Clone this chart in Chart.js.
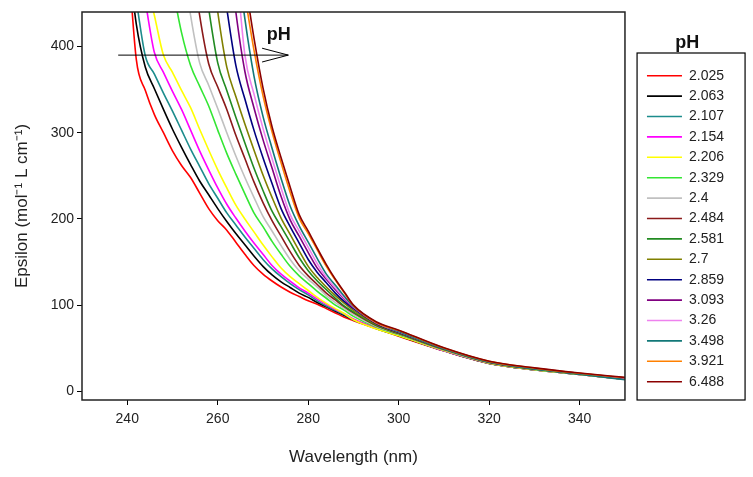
<!DOCTYPE html>
<html>
<head>
<meta charset="utf-8">
<title>Epsilon vs wavelength at several pH</title>
<script src="https://cdn.jsdelivr.net/npm/chart.js@4.4.0/dist/chart.umd.min.js"></script>
<style>
  body { margin: 0; background: #fff; }
  #wrap { width: 753px; height: 477px; }
</style>
</head>
<body>
<div id="wrap"><canvas id="spectraChart"></canvas></div>
<script>
// wavelengths (nm) shared by every spectrum
const wavelengths = [240, 242, 244, 246, 248, 250, 252, 254, 256, 258, 260, 262, 264, 266, 268, 270,
  272, 274, 276, 278, 280, 282, 284, 286, 288, 290, 295, 300, 310, 320, 330, 340, 350];

// epsilon, null where it is still far above the plot
const eps2025 = [520, 385, 349, 321, 300, 279, 262, 248, 230, 212, 198, 187, 173, 159, 146, 136, 128, 121, 115, 110, 105, 101, 96, 91, 86, 82, 73, 64, 47, 32.5, 25, 19.5, 14];
const eps2063 = [515, 426, 376, 351, 327, 304, 283, 263, 244, 228, 212, 197, 183, 170, 157, 145, 135, 127, 120.5, 114, 109, 103, 98, 93, 88, 83, 73, 64.5, 47, 32.5, 25, 19.5, 14];
const eps2107 = [null, 453, 389, 368, 346, 325, 303, 281, 261, 241, 224, 207, 193, 179, 166, 153, 142, 133, 125, 118, 112, 105, 99, 94, 89, 83, 73, 65, 47, 32.5, 25, 19.5, 14];
const eps2154 = [null, null, 452, 393, 370, 348, 327, 303, 279, 257, 236, 217, 201, 186, 172, 159, 146, 136, 128, 120, 114, 107, 101, 95, 90, 84, 73.5, 65.5, 47, 32.8, 25.2, 19.7, 14.1];
const eps2206 = [null, null, 481, 436, 390, 370, 349, 329, 304, 280, 257, 236, 216, 200, 185, 170, 156, 143, 133, 125, 117, 109, 102, 96, 90, 83, 72.5, 64.5, 47.5, 32.8, 25.2, 19.7, 14.1];
const eps2329 = [null, null, null, null, null, 469, 416, 378, 354, 331, 303, 276, 252, 229, 207, 191, 174, 159, 145, 134, 125, 116, 108, 100, 94, 87, 74.6, 66, 48, 33.2, 25.5, 19.9, 14.3];
const eps2400 = [null, null, null, null, null, null, 508, 436, 381, 355, 328, 300, 273, 248, 225, 203, 186, 169, 153, 140, 130, 121, 111, 103, 96, 89, 75.5, 66.5, 48.3, 33.4, 25.7, 20, 14.5];
const eps2484 = [null, null, null, null, null, null, null, 513, 436, 380, 353, 327, 297, 270, 243, 219, 198, 180, 162, 146, 134, 124, 114, 106, 98, 91, 76.3, 67, 48.6, 33.6, 25.9, 20.2, 14.7];
const eps2581 = [null, null, null, null, null, null, null, null, 521, 444, 381, 349, 318, 288, 259, 233, 209, 191, 173, 155, 140, 128, 118, 108, 99, 92, 77, 67.5, 48.9, 33.8, 26, 20.3, 14.8];
const eps2700 = [null, null, null, null, null, null, null, null, null, 523, 440, 376, 342, 310, 280, 251, 225, 201, 182, 163, 145, 132, 121, 111, 102, 94, 77.8, 68, 49.2, 34, 26.2, 20.4, 15];
const eps2859 = [null, null, null, null, null, null, null, null, null, null, 521, 444, 378, 339, 303, 271, 241, 212, 191, 172, 153, 138, 126, 114, 104, 96, 78.7, 68.5, 49.5, 34.2, 26.4, 20.5, 15.2];
const eps3093 = [null, null, null, null, null, null, null, null, null, null, null, 531, 440, 371, 329, 292, 259, 226, 199, 180, 161, 143, 130, 118, 107, 97, 79.3, 69, 49.8, 34.4, 26.6, 20.7, 15.4];
const eps3260 = [null, null, null, null, null, null, null, null, null, null, null, null, 501, 390, 345, 305, 270, 236, 205, 186, 167, 148, 132, 120, 108, 98, 79.8, 69.3, 50, 34.5, 26.7, 20.8, 15.5];
const eps3498 = [null, null, null, null, null, null, null, null, null, null, null, null, 515, 432, 366, 319, 282, 247, 215, 192, 173, 154, 136, 123, 110, 98.5, 80, 69.5, 49.5, 34, 26, 20, 13.5];
const eps3921 = [null, null, null, null, null, null, null, null, null, null, null, null, 521, 459, 396, 343, 301, 265, 231, 201, 183, 164, 145, 129, 114, 99.6, 79.8, 70.5, 50.3, 34.8, 27, 21, 15.8];
const eps6488 = [null, null, null, null, null, null, null, null, null, null, null, null, 543, 477, 410, 352, 307, 271, 237, 205, 186, 166, 147, 130, 115, 100, 80.8, 71, 50.5, 35, 27.3, 21.3, 16.2];

// legend entries and line colours, same order as the spectra
const phLabels = ["2.025", "2.063", "2.107", "2.154", "2.206", "2.329", "2.4", "2.484",
  "2.581", "2.7", "2.859", "3.093", "3.26", "3.498", "3.921", "6.488"];
const lineColors = ["#ff0000", "#000000", "#1c8c8c", "#ff00ff", "#ffff00", "#33e633", "#c0c0c0", "#8b1a1a",
  "#228b22", "#808000", "#000080", "#800080", "#ee82ee", "#127878", "#ff8000", "#8b0000"];

// tick labels
const xTicks = [240, 260, 280, 300, 320, 340];
const yTicks = [0, 100, 200, 300, 400];

// arrow that shows the direction of rising pH (wavelength, epsilon)
const arrowX = [238, 275.6];
const arrowY = [390, 390];
const arrowHeadX = [269.8, 275.6, 269.8];
const arrowHeadY = [398, 390, 382];
const arrowText = "pH";
const arrowTextAt = [273.5, 413.5];

const spectra = [eps2025, eps2063, eps2107, eps2154, eps2206, eps2329, eps2400, eps2484,
  eps2581, eps2700, eps2859, eps3093, eps3260, eps3498, eps3921, eps6488];

const fontFamily = "'Liberation Sans', Arial, Helvetica, sans-serif";
Chart.defaults.font.family = fontFamily;

// pair up x and y arrays
function toPoints(xs, ys) {
  return xs.map((x, i) => ({ x: x, y: ys[i] }));
}

// one line per pH, later ones drawn on top
const datasets = spectra.map((vals, i) => ({
  label: phLabels[i],
  data: toPoints(wavelengths, vals),
  borderColor: lineColors[i],
  backgroundColor: lineColors[i],
  borderWidth: 1.6,
  pointRadius: 0,
  cubicInterpolationMode: "monotone",
  order: spectra.length - i,
}));

datasets.push({
  label: "arrow",
  data: toPoints(arrowX, arrowY),
  borderColor: "#000",
  borderWidth: 1,
  pointRadius: 0,
  order: 0,
});
datasets.push({
  label: "arrowhead",
  data: toPoints(arrowHeadX, arrowHeadY),
  borderColor: "#000",
  borderWidth: 1,
  pointRadius: 0,
  order: 0,
});

// frame round the plot, the pH text and the box round the legend
const extrasPlugin = {
  id: "extras",
  afterDatasetsDraw(chart) {
    const { ctx, chartArea: a, scales } = chart;
    ctx.save();
    ctx.strokeStyle = "#222";
    ctx.lineWidth = 1.5;
    ctx.strokeRect(a.left, a.top, a.right - a.left, a.bottom - a.top);

    ctx.fillStyle = "#111";
    ctx.font = "bold 18px " + fontFamily;
    ctx.textAlign = "center";
    ctx.textBaseline = "middle";
    ctx.fillText(arrowText, scales.x.getPixelForValue(arrowTextAt[0]), scales.y.getPixelForValue(arrowTextAt[1]));
    ctx.restore();
  },
  afterDraw(chart) {
    const lg = chart.legend;
    const ctx = chart.ctx;
    const top = lg.top + 41;
    ctx.save();
    ctx.strokeStyle = "#000";
    ctx.lineWidth = 1.2;
    ctx.strokeRect(lg.left - 3.5, top, 108, chart.chartArea.bottom - top);
    ctx.restore();
  },
};

const ctx = document.getElementById("spectraChart").getContext("2d");
const spectraChart = new Chart(ctx, {
  type: "line",
  data: { datasets: datasets },
  plugins: [extrasPlugin],
  options: {
    responsive: true,
    maintainAspectRatio: false,
    animation: false,
    layout: { padding: { top: 12, right: 19, bottom: 0, left: 0 } },
    scales: {
      x: {
        type: "linear",
        min: 230,
        max: 350,
        afterBuildTicks: (axis) => { axis.ticks = xTicks.map((v) => ({ value: v })); },
        afterFit: (axis) => { axis.height = 77; },
        grid: { drawOnChartArea: false, drawTicks: true, tickLength: 5, color: "#000" },
        border: { display: false },
        ticks: { font: { size: 14 }, color: "#222", padding: 6, maxRotation: 0 },
        title: { display: true, text: "Wavelength (nm)", font: { size: 17 }, color: "#222", padding: { top: 0, bottom: 9 } },
      },
      y: {
        min: -10,
        max: 440,
        afterBuildTicks: (axis) => { axis.ticks = yTicks.map((v) => ({ value: v })); },
        afterFit: (axis) => { axis.width = 82; },
        grid: { drawOnChartArea: false, drawTicks: true, tickLength: 5, color: "#000" },
        border: { display: false },
        ticks: { font: { size: 14 }, color: "#222", padding: 3 },
        title: { display: true, text: "Epsilon (mol⁻¹ L cm⁻¹)", font: { size: 17 }, color: "#222", padding: { top: 12, bottom: 0 } },
      },
      // empty axis, only keeps a gap between plot and legend
      gap: {
        position: "right",
        grid: { display: false },
        border: { display: false },
        ticks: { display: false },
        afterFit: (axis) => { axis.width = 15.6; },
      },
    },
    plugins: {
      legend: {
        position: "right",
        align: "start",
        labels: {
          filter: (item) => item.datasetIndex < phLabels.length,
          sort: (a, b) => a.datasetIndex - b.datasetIndex,
          usePointStyle: true,
          pointStyle: "line",
          pointStyleWidth: 35,
          font: { size: 14 },
          color: "#222",
          padding: 6.4,
        },
        title: {
          display: true,
          text: "pH",
          font: { size: 18, weight: "bold" },
          color: "#111",
          padding: { top: 22, bottom: 6.7 },
        },
      },
      tooltip: { enabled: false },
    },
  },
});
</script>
</body>
</html>
